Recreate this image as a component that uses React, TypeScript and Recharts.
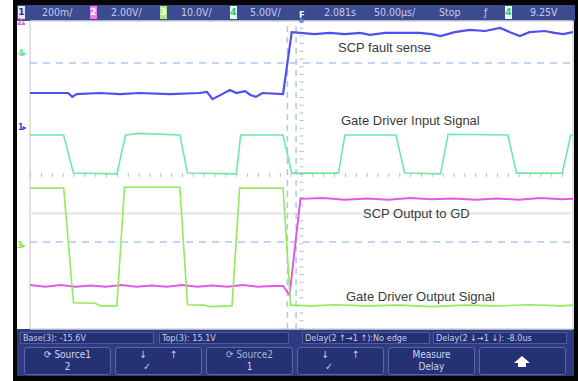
import React from 'react';
import { ComposedChart, Line, XAxis, YAxis, CartesianGrid, ReferenceLine } from 'recharts';

// time in µs around the trigger point, level in screen divisions from centre
const timeTicks = [-250, -200, -150, -100, -50, 0, 50, 100, 150, 200, 250];
const divTicks = [-4, -3, -2, -1, 0, 1, 2, 3, 4];

// ch1 - SCP fault sense
const faultSense: [number, number][] = [
  [-250, 2.13], [-222, 2.13], [-215, 2.13], [-211, 2.03], [-207, 2.1], [-186, 2.13],
  [-167, 2.1], [-149, 2.13], [-121, 2.1], [-94, 2.13], [-87, 2.16], [-82, 1.97],
  [-73, 2.1], [-66, 2.21], [-60, 2.13], [-52, 2.18], [-47, 2.08], [-42, 2.03],
  [-36, 2.13], [-17, 2.1], [-9, 3.71], [-1, 3.69], [12, 3.66], [26, 3.69], [40, 3.66],
  [54, 3.69], [63, 3.64], [77, 3.69], [91, 3.69], [109, 3.69], [120, 3.66], [128, 3.61],
  [141, 3.71], [155, 3.77], [169, 3.74], [183, 3.82], [192, 3.71], [201, 3.61],
  [210, 3.71], [224, 3.74], [233, 3.69], [241, 3.66], [250, 3.71],
];

// ch4 - gate driver input
const gdInput: [number, number][] = [
  [-250, 1.04], [-219, 1.04], [-210, 0.05], [-170, 0.03], [-162, 1.04], [-149, 1.08],
  [-112, 1.04], [-105, 0.05], [-60, 0.03], [-56, 1.04], [-17, 1.04], [-9, 0.05],
  [34, 0.05], [40, 1.04], [87, 1.04], [95, 0.05], [128, 0.03], [135, 1.06],
  [190, 1.04], [198, 0.05], [240, 0.05], [248, 1.04], [250, 1.04],
];

// ch2 - SCP output to gate driver
const scpOutput: [number, number][] = [
  [-250, -2.86], [-236, -2.9], [-222, -2.86], [-208, -2.9], [-194, -2.87], [-180, -2.9],
  [-166, -2.86], [-152, -2.9], [-138, -2.87], [-124, -2.9], [-110, -2.86], [-96, -2.9],
  [-82, -2.87], [-68, -2.9], [-54, -2.86], [-40, -2.9], [-26, -2.88], [-17, -2.88],
  [-13, -3.04], [-11, -3.12], [-1, -0.62], [20, -0.6], [40, -0.64], [60, -0.61],
  [80, -0.64], [100, -0.6], [120, -0.63], [140, -0.61], [160, -0.64], [180, -0.61],
  [200, -0.64], [220, -0.6], [240, -0.63], [250, -0.62],
];

// ch3 - gate driver output
const gdOutput: [number, number][] = [
  [-250, -0.34], [-219, -0.34], [-210, -3.32], [-190, -3.33], [-185, -3.4], [-170, -3.4],
  [-163, -0.32], [-112, -0.32], [-105, -3.37], [-90, -3.38], [-84, -3.42], [-64, -3.4],
  [-57, -0.34], [-17, -0.34], [-10, -3.38], [10, -3.4], [30, -3.37], [60, -3.4],
  [90, -3.38], [120, -3.42], [150, -3.38], [180, -3.4], [210, -3.37], [240, -3.4],
  [250, -3.38],
];

const cursorLevels = [2.91, -1.74];
const cursorTimes = [-13, -5];

const traces = [
  { name: 'SCP fault sense', points: faultSense, color: '#4f4ff0', width: 2.2 },
  { name: 'Gate Driver Input Signal', points: gdInput, color: '#6fe8a6', width: 1.6 },
  { name: 'SCP Output to GD', points: scpOutput, color: '#e05ae8', width: 2 },
  { name: 'Gate Driver Output Signal', points: gdOutput, color: '#92ea5c', width: 1.6 },
];

const traceLabels = [
  { text: 'SCP fault sense', x: 338, y: 41 },
  { text: 'Gate Driver Input Signal', x: 341, y: 114 },
  { text: 'SCP Output to GD', x: 363, y: 207 },
  { text: 'Gate Driver Output Signal', x: 346, y: 290 },
];

const toRows = (pts: [number, number][]) => pts.map(([t, v]) => ({ t, v }));

const uiFont = "'DejaVu Sans', sans-serif";
const barText: React.CSSProperties = {
  position: 'absolute',
  top: 5,
  fontFamily: uiFont,
  fontStretch: 'condensed',
  fontSize: 10.5,
  lineHeight: '15px',
  color: '#c4cbee',
};

const chanBox = (label: string, x: number, bg: string, fg: string) => (
  <div
    key={label + x}
    style={{
      position: 'absolute', left: x, top: 6, width: 7, height: 13, background: bg, color: fg,
      fontFamily: uiFont, fontSize: 9, fontWeight: 'bold', lineHeight: '13px', textAlign: 'center',
    }}
  >
    {label}
  </div>
);

const topItems = [
  { text: '200m/', x: 42 },
  { text: '2.00V/', x: 111 },
  { text: '10.0V/', x: 181 },
  { text: '5.00V/', x: 250 },
  { text: '2.081s', x: 324 },
  { text: '50.00µs/', x: 374 },
  { text: 'Stop', x: 439 },
  { text: 'ƒ', x: 484 },
  { text: '9.25V', x: 530 },
];

const measurements = [
  { text: 'Base(3): -15.6V', x: 20, w: 134 },
  { text: 'Top(3): 15.1V', x: 159, w: 130 },
  { text: 'Delay(2 ↑→1 ↑):No edge', x: 302, w: 128 },
  { text: 'Delay(2 ↓→1 ↓): -8.0us', x: 433, w: 134 },
];

const softkeys = [
  { top: '⟳ Source1', bottom: '2' },
  { top: '↓        ↑', bottom: '✓        ' },
  { top: '⟳ Source2', bottom: '1' },
  { top: '↓        ↑', bottom: '✓        ' },
  { top: 'Measure', bottom: 'Delay' },
  { top: '', bottom: '' },
];

const markers = [
  { text: '2▴', x: 17, y: 18, color: '#e060e0' },
  { text: '4▸', x: 18, y: 49, color: '#5ee69a' },
  { text: '1▸', x: 18, y: 123, color: '#3a3ae8' },
  { text: '3▸', x: 17, y: 241, color: '#86e050' },
];

export default function App() {
  return (
    <div style={{ position: 'absolute', left: 0, top: 0, width: 578, height: 381, background: '#fff', overflow: 'hidden' }}>
      {/* bezel and screen */}
      <div style={{ position: 'absolute', left: 13, top: 0, width: 565, height: 381, background: '#050505' }} />
      <div style={{ position: 'absolute', left: 17, top: 21, width: 557, height: 308, background: '#fff' }} />

      {/* status bar */}
      <div style={{ position: 'absolute', left: 17, top: 5, width: 558, height: 16, background: '#3c4a90' }} />
      {chanBox('1', 18, '#e6e8ff', '#2c2ca8')}
      {chanBox('2', 90, '#f07cf0', '#ffffff')}
      {chanBox('3', 160, '#a6f07a', '#ffffff')}
      {chanBox('4', 230, '#e6fff0', '#2cc070')}
      {chanBox('4', 505, '#e6fff0', '#2cc070')}
      {topItems.map((it) => (
        <div key={it.text} style={{ ...barText, left: it.x }}>{it.text}</div>
      ))}
      <div style={{ ...barText, left: 299, top: 8, color: '#ffffff', fontSize: 9, fontWeight: 'bold' }}>F</div>

      {/* measurement and softkey panel */}
      <div style={{ position: 'absolute', left: 17, top: 329, width: 557, height: 47, background: '#2e3b80' }} />
      {measurements.map((m) => (
        <div
          key={m.text}
          style={{
            position: 'absolute', left: m.x, top: 332, width: m.w, height: 12, background: '#232f70',
            border: '1px solid #4c5aa0', boxSizing: 'border-box', paddingLeft: 2,
            fontFamily: uiFont, fontStretch: 'condensed', fontSize: 9, lineHeight: '10px', color: '#c8cff0',
            whiteSpace: 'nowrap', overflow: 'hidden',
          }}
        >
          {m.text}
        </div>
      ))}
      {softkeys.map((k, i) => (
        <div
          key={i}
          style={{
            position: 'absolute', left: 24 + i * 91, top: 347, width: 87, height: 28, background: '#243172',
            border: '1px solid #5867ac', borderRadius: 3, boxSizing: 'border-box',
            fontFamily: uiFont, fontStretch: 'condensed', fontSize: 10, lineHeight: '12px', color: '#d0d6f4',
            textAlign: 'center', whiteSpace: 'pre',
          }}
        >
          {i === 5 ? (
            <svg width={85} height={26}>
              <polygon points="34,15 42,8 50,15 46,15 46,19 38,19 38,15" fill="#ffffff" />
            </svg>
          ) : (
            <>
              <div style={{ marginTop: 1, color: i === 2 ? '#aab2dc' : undefined }}>{k.top}</div>
              <div>{k.bottom}</div>
            </>
          )}
        </div>
      ))}

      {/* channel ground markers */}
      {markers.map((m) => (
        <div
          key={m.text}
          style={{
            position: 'absolute', left: m.x, top: m.y, fontFamily: uiFont, fontSize: 8, fontWeight: 'bold',
            color: m.color, lineHeight: '10px', letterSpacing: -1,
          }}
        >
          {m.text}
        </div>
      ))}

      <div style={{ position: 'absolute', left: 0, top: 0 }}>
        <ComposedChart width={578} height={381} margin={{ top: 21, right: 5, bottom: 52, left: 30 }}>
          <CartesianGrid stroke="#d9d9d9" strokeWidth={1.5} />
          <XAxis
            type="number" dataKey="t" domain={[-250, 250]} ticks={timeTicks} allowDataOverflow
            tick={false} tickLine={false} axisLine={false} height={0}
          />
          <YAxis
            type="number" dataKey="v" domain={[-4, 4]} ticks={divTicks} allowDataOverflow
            tick={false} tickLine={false} axisLine={false} width={0}
          />
          {/* centre graticule with minor ticks */}
          <ReferenceLine y={0} stroke="#bdbdbd" strokeWidth={4} strokeDasharray="1 9.86" />
          <ReferenceLine x={0} stroke="#bdbdbd" strokeWidth={4} strokeDasharray="1 6.7" />
          <ReferenceLine y={-1} stroke="#ececec" strokeWidth={3} />
          {cursorLevels.map((v) => (
            <ReferenceLine key={'h' + v} y={v} stroke="#a9c9f2" strokeWidth={1.5} strokeDasharray="7 6" />
          ))}
          {cursorTimes.map((t) => (
            <ReferenceLine key={'v' + t} x={t} stroke="#a9c9f2" strokeWidth={1.5} strokeDasharray="6 5" />
          ))}
          {traces.map((tr) => (
            <Line
              key={tr.name}
              data={toRows(tr.points)}
              dataKey="v"
              name={tr.name}
              type="linear"
              stroke={tr.color}
              strokeWidth={tr.width}
              dot={false}
              activeDot={false}
              isAnimationActive={false}
            />
          ))}
        </ComposedChart>
      </div>

      {traceLabels.map((l) => (
        <div
          key={l.text}
          style={{
            position: 'absolute', left: l.x, top: l.y, fontFamily: "'Liberation Sans', Arial, sans-serif",
            fontSize: 13, lineHeight: '14px', color: '#3a3a3a', whiteSpace: 'nowrap',
          }}
        >
          {l.text}
        </div>
      ))}
      <div style={{ position: 'absolute', left: 299, top: 19, width: 5, height: 4, background: '#6a8ee8', borderRadius: 2 }} />
    </div>
  );
}
